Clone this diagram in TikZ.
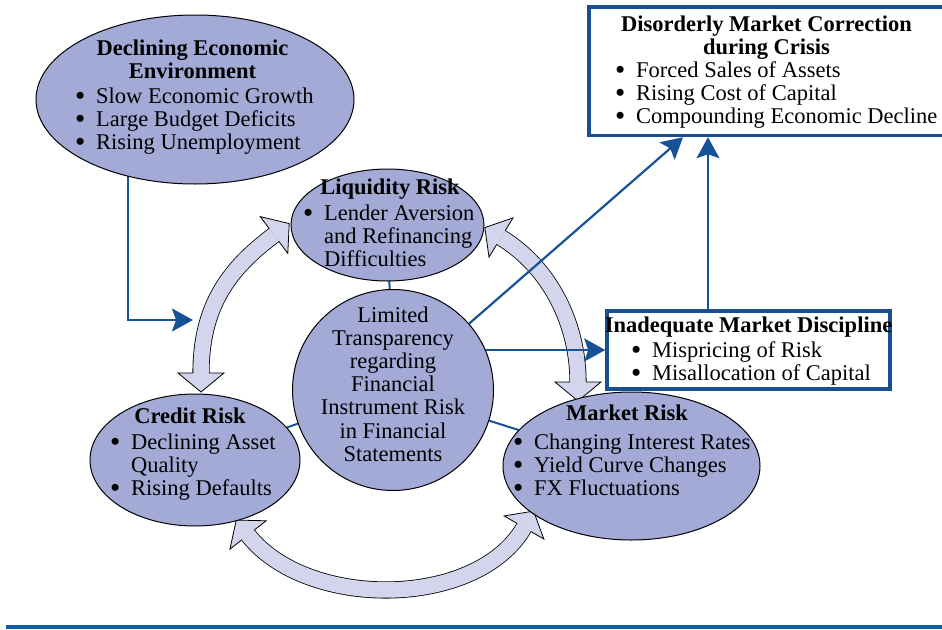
\documentclass[tikz,border=0pt]{standalone}
\usepackage{fontspec}
\usepackage{graphicx}
\setmainfont{Liberation Serif}
\usetikzlibrary{shapes.geometric,arrows.meta,calc}
\definecolor{ellfill}{RGB}{163,170,214}
\definecolor{bandfill}{RGB}{211,213,236}
\definecolor{dblue}{RGB}{24,82,150}
\definecolor{boxblue}{RGB}{26,78,148}
\definecolor{rulecol}{RGB}{16,94,166}
\pgfdeclarelayer{bandlayer}
\pgfdeclarelayer{linelayer}
\pgfsetlayers{bandlayer,linelayer,main}
\newcommand{\bl}{\makebox[21pt][l]{\smash{\raisebox{-0.09em}{\scalebox{1.3}{\textbullet}}}}}
\newcommand{\ind}{\hspace*{21pt}}
\newcommand{\arrhead}[2]{\filldraw[headst] ($(#1)!7.9pt!90:(#2)$) -- ($(#1)!23pt!90:(#2)$) -- ($(#1)!-19pt!(#2)$) -- ($(#1)!23pt!-90:(#2)$) -- ($(#1)!7.9pt!-90:(#2)$);}
\newcommand{\bigarrow}[4]{\draw[bandst] (#1) .. controls (#2) and (#3) .. (#4); \arrhead{#1}{#2}\arrhead{#4}{#3}}
\begin{document}
\begin{tikzpicture}[x=1pt,y=-1pt,
  ell/.style={ellipse, draw=black, line width=1pt, fill=ellfill, inner sep=0pt},
  circ/.style={circle, draw=black, line width=1pt, fill=ellfill, inner sep=0pt},
  bbox/.style={rectangle, draw=boxblue, line width=3.5pt, fill=white, inner sep=0pt},
  txt/.style={inner sep=0pt, font=\fontsize{22.5}{23.2}\selectfont},
  ttl/.style={inner sep=0pt, font=\fontsize{22.5}{23.2}\selectfont\bfseries},
  bandst/.style={draw=black, line width=0.8pt, double=bandfill, double distance=15.5pt},
  headst/.style={draw=black, fill=bandfill, line width=0.8pt, line join=miter},
  arr/.style={draw=dblue, line width=2.2pt, -{Stealth[length=21pt,width=23pt,inset=4pt]}},
  link/.style={draw=dblue, line width=2pt}]
\useasboundingbox (0,0) rectangle (942,629);

% nodes (shapes)
\node[ell, minimum width=318pt, minimum height=169pt] (dee) at (195,99.5) {};
\node[ell, minimum width=193pt, minimum height=112pt] (liq) at (387.5,225) {};
\node[circ, minimum size=201pt] (lim) at (393,390) {};
\node[ell, minimum width=210pt, minimum height=132pt] (cred) at (195,460) {};
\node[ell, minimum width=257pt, minimum height=148pt] (mkt) at (631.5,466) {};
\node[bbox, minimum width=363pt, minimum height=128.5pt] (dmc) at (770.5,71.25) {};
\node[bbox, minimum width=283pt, minimum height=78pt] (imd) at (748.5,350) {};

% texts
\node[ttl, anchor=base] (deet) at (192.5,55) {\begin{tabular}[t]{@{}c@{}}Declining Economic\\ Environment\end{tabular}};
\node[txt, anchor=base west] (deel) at (75,103) {\begin{tabular}[t]{@{}l@{}}\bl Slow Economic Growth\\ \bl Large Budget Deficits\\ \bl Rising Unemployment\end{tabular}};
\node[ttl, anchor=base] (liqt) at (390,194) {Liquidity Risk};
\node[txt, anchor=base west] (liql) at (303,220) {\begin{tabular}[t]{@{}l@{}}\bl Lender Aversion\\ \ind and Refinancing\\ \ind Difficulties\end{tabular}};
\node[txt, anchor=base] (limt) at (393,322) {\begin{tabular}[t]{@{}c@{}}Limited\\ Transparency\\ regarding\\ Financial\\ Instrument Risk\\ in Financial\\ Statements\end{tabular}};
\node[ttl, anchor=base] (credt) at (190,423) {Credit Risk};
\node[txt, anchor=base west] (credl) at (110,449) {\begin{tabular}[t]{@{}l@{}}\bl Declining Asset\\ \ind Quality\\ \bl Rising Defaults\end{tabular}};
\node[ttl, anchor=base] (mktt) at (627,420) {Market Risk};
\node[txt, anchor=base west] (mktl) at (513,449) {\begin{tabular}[t]{@{}l@{}}\bl Changing Interest Rates\\ \bl Yield Curve Changes\\ \bl FX Fluctuations\end{tabular}};
\node[ttl, anchor=base] (dmct) at (766.5,31) {\begin{tabular}[t]{@{}c@{}}Disorderly Market Correction\\ during Crisis\end{tabular}};
\node[txt, anchor=base west] (dmcl) at (615,77) {\begin{tabular}[t]{@{}l@{}}\bl Forced Sales of Assets\\ \bl Rising Cost of Capital\\ \bl Compounding Economic Decline\end{tabular}};
\node[ttl, anchor=base] (imdt) at (748.5,332) {Inadequate Market Discipline};
\node[txt, anchor=base west] (imdl) at (631,357) {\begin{tabular}[t]{@{}l@{}}\bl Mispricing of Risk\\ \bl Misallocation of Capital\end{tabular}};

% big hollow double arrows
\begin{pgfonlayer}{bandlayer}
\coordinate (laS) at (201,373); \coordinate (la1) at (201,305);
\coordinate (la2) at (230,268); \coordinate (laE) at (274,235);
\bigarrow{laS}{la1}{la2}{laE}
\coordinate (raS) at (578,382); \coordinate (ra1) at (578,324);
\coordinate (ra2) at (550,267.5); \coordinate (raE) at (501,237.5);
\bigarrow{raS}{ra1}{ra2}{raE}
\coordinate (baS) at (248,535); \coordinate (ba1) at (307,610);
\coordinate (ba2) at (476.5,609); \coordinate (baE) at (524,527.5);
\bigarrow{baS}{ba1}{ba2}{baE}
\end{pgfonlayer}

% blue connectors
\coordinate (x1) at (128,0);
\coordinate (t1) at (193,320);
\coordinate (x2) at (683,0);
\coordinate (x4) at (708,0);
\begin{pgfonlayer}{linelayer}
\draw[link] (liq.center) -- (lim.center);
\draw[link] (lim.center) -- (cred.center);
\draw[link] (lim.center) -- (mkt.center);
\draw[arr] (dee.center -| x1) |- (t1);
\draw[arr] (lim.center) -- (dmc.south -| x2);
\draw[arr] (lim.center |- imd.west) -- (imd.west);
\draw[arr] (imd.north -| x4) -- (dmc.south -| x4);
\end{pgfonlayer}

% bottom rule
\draw[rulecol, line width=4pt] (6,627) -- (942,627);
\end{tikzpicture}
\end{document}
